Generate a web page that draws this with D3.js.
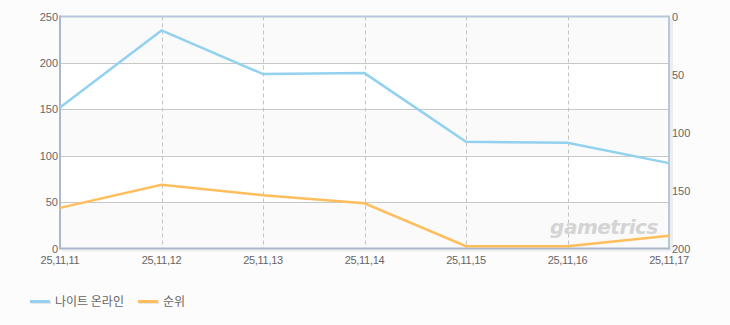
<!DOCTYPE html>
<html>
<head>
<meta charset="utf-8">
<script src="https://cdn.jsdelivr.net/npm/d3@7"></script>
<style>
  html, body { margin: 0; padding: 0; background: #fcfcfc; }
  text { font-family: "Liberation Sans", "Noto Sans CJK KR", sans-serif; }
</style>
</head>
<body>
<svg id="chart" width="730" height="325"></svg>
<script>
const dates = ["25,11,11", "25,11,12", "25,11,13", "25,11,14", "25,11,15", "25,11,16", "25,11,17"];
const players = [152, 235, 188, 189, 115, 114, 92];
const ranks = [165, 145, 154, 161, 198, 198, 189];
const leftTicks = [0, 50, 100, 150, 200, 250];
const rightTicks = [0, 50, 100, 150, 200];
const seriesNames = ["나이트 온라인", "순위"];
const seriesColors = ["#92d1ef", "#ffbe5c"];

const margin = { top: 16.5, left: 60, right: 61, bottom: 76.5 };
const W = 730, H = 325;
const svg = d3.select("#chart");

const x = d3.scalePoint().domain(dates).range([margin.left, W - margin.right]);
const yL = d3.scaleLinear().domain([0, 250]).range([H - margin.bottom, margin.top]);
const yR = d3.scaleLinear().domain([0, 200]).range([margin.top, H - margin.bottom]);

const x0 = margin.left, x1 = W - margin.right;
const plotTop = margin.top, plotBot = H - margin.bottom;

// shadow on the right
svg.append("rect").attr("x", x1 + 1).attr("y", plotTop + 2).attr("width", 3).attr("height", plotBot - plotTop)
  .attr("fill", "#eeeeee");
svg.append("rect").attr("x", x0 + 2).attr("y", plotBot + 1).attr("width", x1 - x0).attr("height", 2)
  .attr("fill", "#eeeeee");

// alternating bands
const bands = d3.pairs(leftTicks);
svg.append("g").selectAll("rect").data(bands).join("rect")
  .attr("x", x0).attr("width", x1 - x0)
  .attr("y", d => yL(d[1])).attr("height", d => yL(d[0]) - yL(d[1]))
  .attr("fill", (d, i) => (i % 2 === 0 ? "#fafafa" : "#ffffff"));

// horizontal grid
svg.append("g").selectAll("line").data(leftTicks.slice(1, -1)).join("line")
  .attr("x1", x0).attr("x2", x1)
  .attr("y1", d => Math.round(yL(d)) + 0.5).attr("y2", d => Math.round(yL(d)) + 0.5)
  .attr("stroke", "#c8c8c8");

// vertical dashed grid
svg.append("g").selectAll("line").data(dates.slice(1, -1)).join("line")
  .attr("x1", d => Math.round(x(d)) + 0.5).attr("x2", d => Math.round(x(d)) + 0.5)
  .attr("y1", plotTop).attr("y2", plotBot)
  .attr("stroke", "#c4c4c4").attr("stroke-dasharray", "4,3");

// watermark
svg.append("text").attr("x", 604).attr("y", 234).attr("text-anchor", "middle")
  .attr("font-size", 20).attr("font-weight", "bold").attr("font-style", "italic")
  .attr("fill", "#d4d4d4").style("font-family", "'DejaVu Sans', sans-serif")
  .attr("letter-spacing", "-0.5").text("gametrics");

// frame
svg.append("line").attr("x1", x0).attr("x2", x1 + 1).attr("y1", plotTop).attr("y2", plotTop)
  .attr("stroke", "#b6c8dc").attr("stroke-width", 2);
svg.append("line").attr("x1", x1).attr("x2", x1).attr("y1", plotTop).attr("y2", plotBot)
  .attr("stroke", "#b6c8dc").attr("stroke-width", 2);
svg.append("line").attr("x1", x0).attr("x2", x0).attr("y1", plotTop - 1).attr("y2", plotBot + 1)
  .attr("stroke", "#a9b8cb").attr("stroke-width", 2);
svg.append("line").attr("x1", x0).attr("x2", x1 + 1).attr("y1", plotBot).attr("y2", plotBot)
  .attr("stroke", "#a9b8cb").attr("stroke-width", 2);

// lines
const lineL = d3.line().x((d, i) => x(dates[i])).y(d => yL(d));
const lineR = d3.line().x((d, i) => x(dates[i])).y(d => yR(d));
svg.append("path").datum(players).attr("d", lineL)
  .attr("fill", "none").attr("stroke", seriesColors[0]).attr("stroke-width", 2.5);
svg.append("path").datum(ranks).attr("d", lineR)
  .attr("fill", "none").attr("stroke", seriesColors[1]).attr("stroke-width", 2.5);

// axes labels
const labelColor = "#666666";
svg.append("g").selectAll("text").data(leftTicks).join("text")
  .attr("x", x0 - 2).attr("y", d => yL(d) + 4).attr("text-anchor", "end")
  .attr("font-size", 11).attr("fill", labelColor).text(d => d);
svg.append("g").selectAll("text").data(rightTicks).join("text")
  .attr("x", x1 + 3).attr("y", d => yR(d) + 4).attr("text-anchor", "start")
  .attr("font-size", 11).attr("fill", labelColor).text(d => d);
svg.append("g").selectAll("text").data(dates).join("text")
  .attr("x", d => x(d)).attr("y", plotBot + 15).attr("text-anchor", "middle")
  .attr("font-size", 11).attr("letter-spacing", "-0.3").attr("fill", labelColor).text(d => d);

// legend
const legend = svg.append("g");
const legendX = [30, 138];
seriesNames.forEach((name, i) => {
  legend.append("rect").attr("x", legendX[i] + 1).attr("y", 301).attr("width", 20).attr("height", 3)
    .attr("fill", "#e6e6e6");
  legend.append("rect").attr("x", legendX[i]).attr("y", 300).attr("width", 20).attr("height", 3)
    .attr("fill", seriesColors[i]);
  legend.append("text").attr("x", legendX[i] + 25).attr("y", 306)
    .attr("font-size", 12).attr("fill", labelColor)
    .style("font-family", "'Noto Sans CJK KR', sans-serif").text(name);
});
</script>
</body>
</html>
